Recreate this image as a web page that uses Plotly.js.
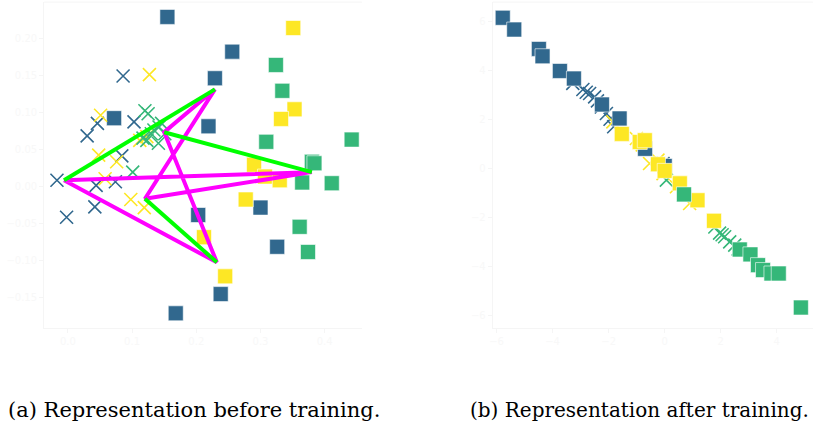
<!DOCTYPE html>
<html>
<head>
<meta charset="utf-8">
<script src="https://cdn.plot.ly/plotly-3.0.1.min.js"></script>
<style>html,body{margin:0;padding:0;background:#fff;}#chart{width:817px;height:425px;}</style>
</head>
<body>
<div id="chart"></div>
<script>
// ---- Panel (a): before training ----
const aBlueSqX = [0.155, 0.256, 0.229, 0.072, 0.219, 0.203, 0.300, 0.326, 0.238, 0.168];
const aBlueSqY = [0.229, 0.182, 0.146, 0.092, 0.081, -0.039, -0.029, -0.082, -0.146, -0.172];
const aYellowSqX = [0.351, 0.353, 0.332, 0.290, 0.307, 0.330, 0.277, 0.212, 0.245];
const aYellowSqY = [0.214, 0.104, 0.091, 0.029, 0.013, 0.008, -0.018, -0.069, -0.122];
const aGreenSqX = [0.324, 0.334, 0.309, 0.442, 0.380, 0.384, 0.365, 0.411, 0.361, 0.374];
const aGreenSqY = [0.164, 0.129, 0.060, 0.063, 0.033, 0.031, 0.005, 0.004, -0.055, -0.089];
const aBlueXX = [0.086, -0.017, 0.030, 0.046, 0.103, 0.084, 0.044, 0.074, 0.042, -0.002];
const aBlueXY = [0.149, 0.008, 0.068, 0.085, 0.087, 0.041, 0.001, 0.006, -0.028, -0.042];
const aYellowXX = [0.127, 0.051, 0.048, 0.076, 0.058, 0.098, 0.119, 0.112, 0.123];
const aYellowXY = [0.151, 0.096, 0.042, 0.033, 0.010, -0.018, -0.029, 0.062, 0.067];
const aGreenXX = [0.120, 0.125, 0.134, 0.142, 0.123, 0.141, 0.130, 0.151, 0.101, 0.117, 0.146];
const aGreenXY = [0.102, 0.098, 0.076, 0.080, 0.062, 0.058, 0.071, 0.071, 0.019, 0.065, 0.085];
// graph vertices A..F
const vtxX = [0.229, -0.006, 0.150, 0.380, 0.120, 0.232];
const vtxY = [0.131, 0.008, 0.073, 0.019, -0.017, -0.103];
const greenEdges = [[0, 1], [2, 3], [4, 5]];
const magentaPath = [1, 3, 4, 0, 2, 5, 1];

// ---- Panel (b): after training ----
const bBlueSqX = [-5.78, -5.37, -4.49, -4.36, -3.74, -3.24, -2.24, -1.61, -0.70, 0.00];
const bBlueSqY = [6.14, 5.66, 4.87, 4.57, 3.97, 3.66, 2.60, 2.03, 0.79, 0.09];
const bYellowSqX = [-1.53, -0.89, -0.71, -0.24, 0.00, 0.54, 1.17, 1.76];
const bYellowSqY = [1.40, 1.07, 1.14, 0.16, -0.11, -0.62, -1.31, -2.15];
const bGreenSqX = [0.69, 2.68, 3.06, 3.33, 3.51, 3.81, 4.07, 4.86];
const bGreenSqY = [-1.07, -3.32, -3.52, -3.96, -4.16, -4.30, -4.30, -5.69];
const bBlueXX = [-3.28, -2.92, -2.80, -2.68, -2.50, -2.40, -2.26, -2.08, -1.95, -1.82, -0.06];
const bBlueXY = [3.46, 3.21, 3.10, 3.05, 2.91, 2.75, 2.50, 2.23, 2.00, 1.69, 0.19];
const bYellowXX = [-1.85, -1.01, -0.80, -0.54, -0.24, -0.06, 0.42, 0.89];
const bYellowXY = [1.89, 1.21, 0.95, 0.19, 0.33, -0.22, -0.76, -1.44];
const bGreenXX = [0.06, 1.79, 1.96, 2.05, 2.14, 2.32, 2.50, 2.62];
const bGreenXY = [-0.49, -2.40, -2.65, -2.72, -2.80, -3.01, -3.14, -3.30];

const BLUE = '#31688e', GREEN = '#35b779', YELLOW = '#fde725';

function sq(x, y, c, xa, ya) {
  return {x: x, y: y, xaxis: xa, yaxis: ya, type: 'scatter', mode: 'markers', hoverinfo: 'skip',
    marker: {symbol: 'square', size: 15, color: c, line: {width: 0.6, color: '#ffffff'}}};
}
function cross(x, y, c, xa, ya) {
  return {x: x, y: y, xaxis: xa, yaxis: ya, type: 'scatter', mode: 'markers', hoverinfo: 'skip',
    marker: {symbol: 'x-thin-open', size: 13, color: c, line: {width: 1.6, color: c}}};
}

const traces = [
  sq(aBlueSqX, aBlueSqY, BLUE, 'x', 'y'),
  sq(aYellowSqX, aYellowSqY, YELLOW, 'x', 'y'),
  sq(aGreenSqX, aGreenSqY, GREEN, 'x', 'y'),
  cross(aBlueXX, aBlueXY, BLUE, 'x', 'y'),
  cross(aYellowXX, aYellowXY, YELLOW, 'x', 'y'),
  cross(aGreenXX, aGreenXY, GREEN, 'x', 'y')
];
const gx = [], gy = [];
greenEdges.forEach(e => { gx.push(vtxX[e[0]], vtxX[e[1]], null); gy.push(vtxY[e[0]], vtxY[e[1]], null); });
traces.push({x: magentaPath.map(i => vtxX[i]), y: magentaPath.map(i => vtxY[i]), xaxis: 'x', yaxis: 'y',
  type: 'scatter', mode: 'lines', hoverinfo: 'skip', line: {color: '#ff00ff', width: 4}});
traces.push({x: gx, y: gy, xaxis: 'x', yaxis: 'y', type: 'scatter', mode: 'lines', hoverinfo: 'skip',
  connectgaps: false, line: {color: '#00ff00', width: 4}});

traces.push(
  cross(bBlueXX, bBlueXY, BLUE, 'x2', 'y2'),
  cross(bYellowXX, bYellowXY, YELLOW, 'x2', 'y2'),
  cross(bGreenXX, bGreenXY, GREEN, 'x2', 'y2'),
  sq(bBlueSqX, bBlueSqY, BLUE, 'x2', 'y2'),
  sq(bYellowSqX, bYellowSqY, YELLOW, 'x2', 'y2'),
  sq(bGreenSqX, bGreenSqY, GREEN, 'x2', 'y2')
);

const faint = '#f5f5f5';
function ax(extra) {
  return Object.assign({
    showgrid: false, zeroline: false, showline: true, linecolor: faint, linewidth: 1, mirror: false,
    ticks: 'outside', ticklen: 4, tickcolor: faint, tickfont: {family: 'DejaVu Sans', size: 10, color: '#f8f8f8'}
  }, extra);
}

const layout = {
  width: 817, height: 425, paper_bgcolor: '#ffffff', plot_bgcolor: '#ffffff',
  margin: {l: 0, r: 0, t: 0, b: 0}, showlegend: false,
  xaxis: ax({domain: [0.054, 0.443], range: [-0.037, 0.458], tickvals: [0, 0.1, 0.2, 0.3, 0.4], ticktext: ['0.0', '0.1', '0.2', '0.3', '0.4'], anchor: 'y'}),
  yaxis: ax({domain: [0.228, 0.995], range: [-0.192, 0.249], tickvals: [-0.15, -0.1, -0.05, 0, 0.05, 0.1, 0.15, 0.2], ticktext: ['\u22120.15', '\u22120.10', '\u22120.05', '0.00', '0.05', '0.10', '0.15', '0.20'], anchor: 'x'}),
  xaxis2: ax({domain: [0.603, 0.995], range: [-6.14, 5.29], tickvals: [-6, -4, -2, 0, 2, 4], ticktext: ['\u22126', '\u22124', '\u22122', '0', '2', '4'], anchor: 'y2'}),
  yaxis2: ax({domain: [0.228, 0.995], range: [-6.53, 6.78], tickvals: [-6, -4, -2, 0, 2, 4, 6], ticktext: ['\u22126', '\u22124', '\u22122', '0', '2', '4', '6'], anchor: 'x2'}),
  shapes: [
    {type: 'line', xref: 'paper', yref: 'paper', x0: 0.054, x1: 0.443, y0: 0.995, y1: 0.995, line: {color: faint, width: 1}},
    {type: 'line', xref: 'paper', yref: 'paper', x0: 0.603, x1: 0.995, y0: 0.995, y1: 0.995, line: {color: faint, width: 1}}
  ],
  annotations: [
    {text: '(a) Representation before training.', xref: 'paper', yref: 'paper', x: 6 / 817, y: 1 - 410 / 425,
      xanchor: 'left', yanchor: 'middle', showarrow: false, font: {family: 'DejaVu Serif', size: 21, color: '#000'}},
    {text: '(b) Representation after training.', xref: 'paper', yref: 'paper', x: 468 / 817, y: 1 - 410 / 425,
      xanchor: 'left', yanchor: 'middle', showarrow: false, font: {family: 'DejaVu Serif', size: 20, color: '#000'}}
  ]
};

Plotly.newPlot('chart', traces, layout, {staticPlot: true, displayModeBar: false});
</script>
</body>
</html>
